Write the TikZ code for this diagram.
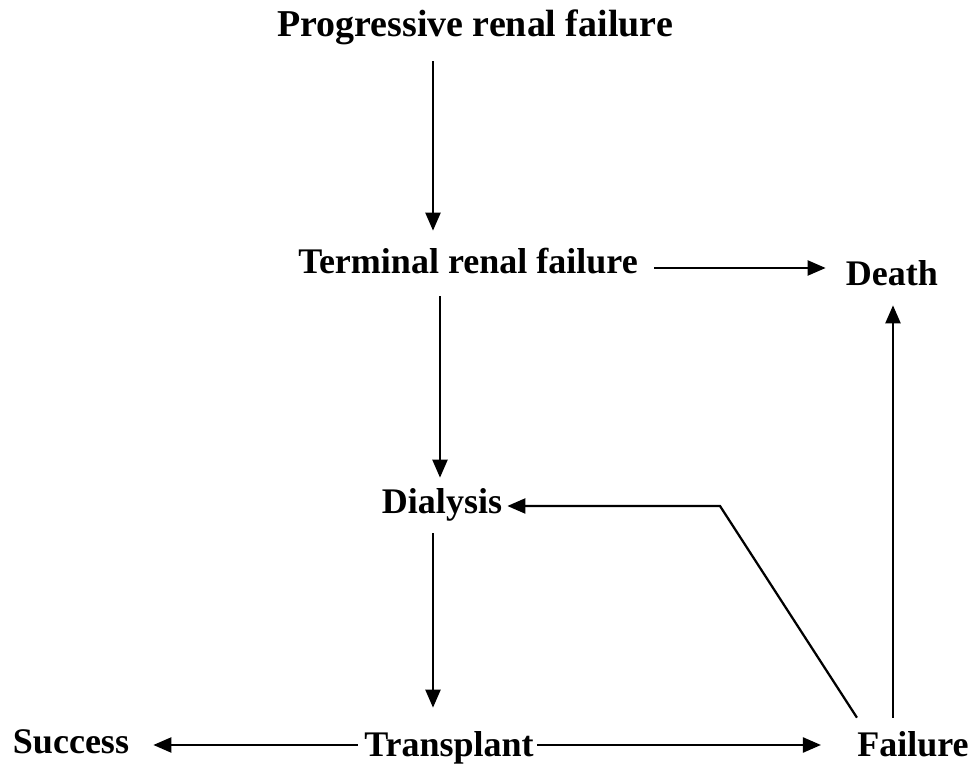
\documentclass[tikz,border=0pt]{standalone}
\usepackage{fontspec}
\setmainfont{Liberation Serif}
\usetikzlibrary{arrows.meta}
\tikzset{
	stage/.style={
			inner sep=0pt, anchor=base, text height=0.5cm, text depth=0.16cm,
			font=\fontsize{20.5}{24}\selectfont\bfseries
		},
	flow/.style={
			line width=0.045cm, -{Triangle[length=0.36cm,width=0.3cm]}
		}
}

\begin{document}
\begin{tikzpicture}[x=0.02cm, y=-0.02cm]
        \useasboundingbox (0, 0) rectangle (975, 766);
        \node [stage, font=\fontsize{21.6}{25}\selectfont\bfseries] (prog) at (475, 37) {Progressive renal failure};
        \node [stage] (term) at (468, 274) {Terminal renal failure};
        \node [stage] (death) at (892, 286) {Death};
        \node [stage] (dial) at (442, 514) {Dialysis};
        \node [stage] (trans) at (449, 757) {Transplant};
        \node [stage] (succ) at (71, 754) {Success};
        \node [stage] (fail) at (913, 757) {Failure};
        \coordinate (bend) at (720, 506);
        % down the main column
        \draw [flow, shorten <=0.32cm, shorten >=0.36cm] (prog.south -| 433, 0) -- (term.north -| 433, 0);
        \draw [flow, shorten <=0.28cm, shorten >=0.22cm] (term.south -| 440, 0) -- (dial.north -| 440, 0);
        \draw [flow, shorten <=0.22cm, shorten >=0.48cm] (dial.south -| 433, 0) -- (trans.north -| 433, 0);
        % sideways
        \draw [flow, shorten <=0.32cm, shorten >=0.4cm] (term.east |- 0, 268) -- (death.west |- 0, 268);
        \draw [flow, shorten <=0.12cm, shorten >=0.48cm] (trans.west |- 0, 745) -- (succ.east |- 0, 745);
        \draw [flow, shorten <=0.06cm, shorten >=0.72cm] (trans.east |- 0, 745) -- (fail.west |- 0, 745);
        % out of failure
        \draw [flow, shorten <=0.28cm, shorten >=0.22cm] (fail.north -| 893, 0) -- (death.south -| 893, 0);
        \draw [flow, shorten >=0.1cm] ([yshift=0.28cm]fail.north west) -- (bend) -- (dial.east |- bend);
    \end{tikzpicture}
\end{document}
